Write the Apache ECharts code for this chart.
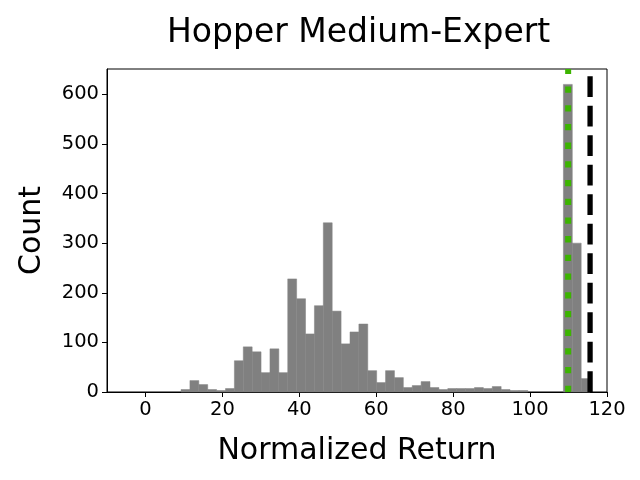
<!DOCTYPE html>
<html>
<head>
<meta charset="utf-8">
<script src="https://cdn.jsdelivr.net/npm/echarts@6/dist/echarts.min.js"></script>
<style>
  html, body { margin: 0; padding: 0; background: #fff; }
  #chart { width: 640px; height: 480px; }
</style>
</head>
<body>
<div id="chart"></div>
<script>
// histogram bins: 50 bins of equal width starting at binMin
const binMin = 0
const binWidth = 2.312
const counts = [
  0, 0, 0, 0, 5, 23, 15, 5, 3, 7,
  63, 91, 81, 39, 87, 39, 228, 188, 117, 174,
  341, 163, 97, 121, 137, 43, 19, 43, 29, 9,
  13, 21, 9, 5, 7, 7, 7, 9, 7, 11,
  5, 3, 3, 0, 0, 0, 0, 620, 300, 27
]
const xTicks = [0, 20, 40, 60, 80, 100, 120]
const yTicks = [0, 100, 200, 300, 400, 500, 600]
const greenLineX = 109.9
const blackLineX = 115.6

const histData = counts.map((c, i) => [binMin + i * binWidth, binMin + (i + 1) * binWidth, c])

const chart = echarts.init(document.getElementById('chart'))
const fontFamily = 'DejaVu Sans'

chart.setOption({
  backgroundColor: '#ffffff',
  animation: false,
  title: {
    text: 'Hopper Medium-Expert',
    left: 162,
    top: 12,
    textStyle: {
      fontFamily: fontFamily,
      fontSize: 33,
      fontWeight: 'normal',
      color: '#000'
    }
  },
  grid: {
    left: 107,
    right: 33,
    top: 69,
    bottom: 88,
    show: true,
    borderColor: '#000',
    borderWidth: 1,
    containLabel: false
  },
  xAxis: {
    type: 'value',
    min: -10,
    max: 120,
    name: 'Normalized Return',
    nameLocation: 'middle',
    nameGap: 44,
    nameTextStyle: { fontFamily: fontFamily, fontSize: 30, color: '#000' },
    axisLine: { show: true, onZero: false, lineStyle: { color: '#000', width: 1 } },
    axisTick: { show: true, inside: false, length: 5, customValues: xTicks, lineStyle: { color: '#000' } },
    axisLabel: { customValues: xTicks, margin: 8, fontFamily: fontFamily, fontSize: 19.5, color: '#000' },
    splitLine: { show: false }
  },
  yAxis: {
    type: 'value',
    min: 0,
    max: 651,
    name: 'Count',
    nameLocation: 'middle',
    nameGap: 60,
    nameTextStyle: { fontFamily: fontFamily, fontSize: 30, color: '#000' },
    axisLine: { show: true, onZero: false, lineStyle: { color: '#000', width: 1 } },
    axisTick: { show: true, inside: false, length: 5, customValues: yTicks, lineStyle: { color: '#000' } },
    axisLabel: { customValues: yTicks, margin: 8, fontFamily: fontFamily, fontSize: 19.5, color: '#000' },
    splitLine: { show: false }
  },
  series: [
    {
      type: 'custom',
      name: 'hist',
      data: histData,
      encode: { x: [0, 1], y: 2 },
      renderItem(params, api) {
        if (!api.value(2)) {
          return null
        }
        const topLeft = api.coord([api.value(0), api.value(2)])
        const bottomRight = api.coord([api.value(1), 0])
        return {
          type: 'rect',
          shape: {
            x: topLeft[0],
            y: topLeft[1],
            width: bottomRight[0] - topLeft[0],
            height: bottomRight[1] - topLeft[1]
          },
          style: { fill: '#808080', stroke: '#808080', lineWidth: 0.5 }
        }
      }
    },
    {
      type: 'line',
      name: 'green',
      data: [[greenLineX, 0], [greenLineX, 651]],
      symbol: 'none',
      lineStyle: { color: '#3cb400', width: 6, type: [6.3, 12.4], cap: 'butt' },
      z: 3
    },
    {
      type: 'line',
      name: 'black',
      data: [[blackLineX, 0], [blackLineX, 651]],
      symbol: 'none',
      lineStyle: { color: '#000', width: 5.3, type: [20.7, 8.8], cap: 'butt' },
      z: 3
    }
  ]
})
</script>
</body>
</html>
